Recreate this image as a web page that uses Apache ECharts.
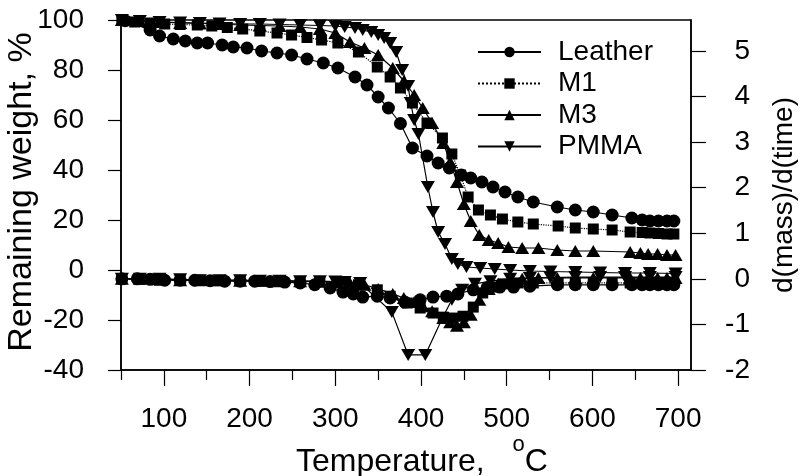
<!DOCTYPE html>
<html>
<head>
<meta charset="utf-8">
<script src="https://cdn.jsdelivr.net/npm/echarts@6/dist/echarts.min.js"></script>
<style>
  html, body { margin: 0; padding: 0; background: #fff; }
  #chart { width: 803px; height: 476px; }
</style>
</head>
<body>
<div id="chart"></div>
<script>
// tick values
const xMajorTicks = [100, 200, 300, 400, 500, 600, 700];
const xMinorTicks = [50, 150, 250, 350, 450, 550, 650];
const rightTicks = [-2, -1, 0, 1, 2, 3, 4, 5];

// Leather - remaining weight (TG)
const leatherTgT = [55, 84, 95, 111, 125, 139, 151, 168, 181, 197, 214, 232, 249, 267, 286, 303, 323, 337, 350, 362, 376, 390, 407, 420, 433, 447, 458, 471, 484, 498, 513, 531, 559, 580, 601, 623, 646, 658, 667, 677, 687, 695];
const leatherTg = [99.7, 96.0, 93.6, 92.4, 91.6, 90.8, 90.8, 90.0, 89.2, 88.8, 87.6, 86.8, 86.0, 84.4, 82.8, 80.8, 77.2, 74.0, 69.2, 64.8, 58.6, 48.8, 45.6, 42.8, 40.8, 38.0, 36.8, 35.2, 33.2, 31.2, 29.2, 27.2, 25.2, 24.0, 23.2, 22.0, 20.8, 20.0, 19.6, 19.6, 19.6, 19.6];
// Leather - d(mass)/d(time)
const leatherDtgT = [51, 69, 84, 101, 119, 136, 154, 171, 189, 206, 224, 241, 259, 276, 294, 309, 321, 332, 349, 364, 381, 399, 414, 430, 443, 461, 477, 492, 508, 527, 559, 580, 601, 623, 646, 658, 667, 677, 687, 695];
const leatherDtg = [0.0, 0.0, -0.01, -0.03, -0.03, -0.03, -0.04, -0.05, -0.05, -0.05, -0.06, -0.07, -0.09, -0.13, -0.20, -0.29, -0.33, -0.40, -0.38, -0.42, -0.51, -0.46, -0.40, -0.38, -0.33, -0.24, -0.20, -0.18, -0.18, -0.16, -0.13, -0.13, -0.13, -0.13, -0.13, -0.13, -0.13, -0.13, -0.13, -0.13];

// M1
const m1TgT = [51, 66, 84, 101, 119, 139, 156, 174, 192, 212, 232, 249, 267, 284, 303, 327, 349, 364, 376, 390, 407, 425, 436, 446, 455, 467, 481, 495, 513, 531, 560, 580, 601, 623, 644, 658, 667, 677, 687, 695];
const m1Tg = [100, 99.2, 98.8, 98.4, 98.2, 98.0, 97.6, 97.0, 96.4, 95.6, 94.8, 94.0, 93.0, 92.0, 90.8, 87.2, 81.2, 77.2, 72.8, 66.8, 58.8, 52.8, 46.4, 38.0, 29.2, 24.0, 22.0, 20.4, 19.2, 18.4, 17.6, 16.8, 16.4, 16.0, 15.2, 15.0, 14.8, 14.6, 14.4, 14.4];
const m1DtgT = [51, 72, 95, 119, 142, 165, 189, 212, 235, 259, 282, 303, 327, 349, 364, 384, 399, 414, 426, 437, 449, 461, 472, 484, 496, 513, 531, 560, 580, 601, 623, 644, 658, 667, 677, 687, 695];
const m1Dtg = [0.0, -0.01, -0.03, -0.03, -0.03, -0.04, -0.04, -0.05, -0.05, -0.06, -0.07, -0.09, -0.13, -0.24, -0.38, -0.53, -0.64, -0.75, -0.84, -0.86, -0.82, -0.62, -0.31, -0.18, -0.11, -0.09, -0.09, -0.09, -0.09, -0.09, -0.09, -0.09, -0.09, -0.09, -0.09, -0.09, -0.09];

// M3
const m3TgT = [51, 72, 95, 119, 142, 165, 189, 212, 235, 259, 282, 300, 317, 334, 350, 367, 380, 392, 402, 413, 426, 434, 442, 450, 458, 468, 479, 490, 502, 518, 537, 559, 580, 601, 644, 656, 665, 676, 687, 697];
const m3Tg = [100, 99.6, 99.2, 98.8, 98.6, 98.4, 98.0, 97.8, 97.6, 97.2, 96.4, 94.8, 91.2, 88.8, 86.0, 80.8, 75.6, 70.0, 64.8, 58.8, 50.8, 43.2, 35.2, 26.4, 19.6, 14.0, 12.0, 10.8, 9.2, 8.8, 8.8, 8.0, 7.6, 7.6, 7.2, 6.8, 6.4, 6.4, 6.0, 6.0];
const m3DtgT = [51, 72, 95, 119, 142, 165, 189, 212, 235, 259, 282, 300, 317, 334, 350, 367, 380, 392, 402, 413, 426, 434, 442, 450, 458, 468, 479, 490, 502, 518, 537, 559, 580, 601, 644, 656, 665, 676, 687, 697];
const m3Dtg = [0.0, 0.0, -0.01, -0.03, -0.03, -0.03, -0.04, -0.04, -0.05, -0.05, -0.06, -0.07, -0.09, -0.13, -0.22, -0.33, -0.42, -0.51, -0.60, -0.71, -0.86, -0.95, -1.03, -0.95, -0.79, -0.46, -0.22, -0.11, -0.05, 0.0, 0.02, 0.02, 0.02, 0.02, 0.02, 0.02, 0.02, 0.02, 0.02, 0.02];

// PMMA
const pmmaTgT = [51, 72, 95, 119, 142, 165, 189, 212, 235, 259, 282, 300, 311, 323, 332, 342, 350, 357, 364, 371, 378, 385, 388, 392, 397, 408, 414, 420, 428, 436, 443, 453, 469, 486, 504, 527, 551, 580, 609, 638, 667, 697];
const pmmaTg = [100, 99.6, 99.2, 99.0, 98.8, 98.6, 98.4, 98.4, 98.2, 98.0, 97.8, 97.6, 97.2, 96.8, 96.0, 95.2, 94.0, 92.8, 90.8, 87.2, 80.0, 73.6, 66.8, 60.0, 54.4, 33.2, 23.2, 15.2, 10.4, 4.4, 2.4, 1.2, 0.8, 0.4, 0.0, -0.4, -0.6, -0.8, -1.0, -1.2, -1.2, -1.4];
const pmmaDtgT = [51, 72, 95, 119, 142, 165, 189, 212, 235, 259, 282, 300, 311, 329, 366, 385, 405, 425, 436, 448, 463, 481, 504, 527, 551, 580, 609, 638, 667, 697];
const pmmaDtg = [0.0, 0.0, 0.0, -0.01, -0.03, -0.03, -0.03, -0.04, -0.04, -0.05, -0.05, -0.06, -0.07, -0.09, -0.73, -1.67, -1.67, -0.86, -0.46, -0.24, -0.11, -0.05, 0.0, 0.02, 0.03, 0.04, 0.04, 0.04, 0.04, 0.04];

const font = '"Liberation Sans", Arial, Helvetica, sans-serif';
const black = '#000';

function pairs(xs, ys) {
  return xs.map((x, i) => [x, ys[i]]);
}

const downTri = 'path://M0,0L10,0L5,9Z';
const styles = {
  Leather: { symbol: 'circle', symbolSize: 13, type: 'solid' },
  M1: { symbol: 'rect', symbolSize: 11, type: 'dotted' },
  M3: { symbol: 'triangle', symbolSize: [14, 12], type: 'solid' },
  PMMA: { symbol: downTri, symbolSize: [14, 12], type: 'solid' },
};

function makeSeries(name, xs, ys, axis) {
  const s = styles[name];
  return {
    name: name,
    type: 'line',
    yAxisIndex: axis,
    data: pairs(xs, ys),
    symbol: s.symbol,
    symbolSize: s.symbolSize,
    showAllSymbol: true,
    itemStyle: { color: black },
    lineStyle: { color: black, width: 1.2, type: s.type },
    emphasis: { disabled: true },
  };
}

const chart = echarts.init(document.getElementById('chart'));
chart.setOption({
  animation: false,
  backgroundColor: '#fff',
  textStyle: { fontFamily: font, color: black },
  grid: {
    left: 121, right: 112, top: 20, bottom: 106,
    outerBoundsMode: 'none',
    show: true, borderColor: black, borderWidth: 1.5,
  },
  legend: {
    orient: 'vertical',
    left: 477,
    top: 38,
    padding: 0,
    itemWidth: 63,
    itemHeight: 13,
    itemGap: 3.5,
    data: ['Leather', 'M1', 'M3', 'PMMA'],
    textStyle: { fontSize: 28, color: black, fontFamily: font, padding: [0, 0, 0, 12] },
  },
  xAxis: [
    {
      type: 'value',
      min: 50,
      max: 715,
      position: 'bottom',
      axisLine: { onZero: false, lineStyle: { color: black, width: 1.5 } },
      axisTick: { customValues: xMajorTicks, length: 16, lineStyle: { color: black, width: 1.2 } },
      axisLabel: { customValues: xMajorTicks, color: black, fontSize: 28, fontFamily: font, margin: 35 },
      splitLine: { show: false },
      name: '{t|Temperature,}{s|o}{t|C}',
      nameLocation: 'middle',
      nameGap: 64,
      nameMoveOverlap: false,
      nameTextStyle: {
        padding: [0, 0, 0, 32],
        rich: {
          t: { fontSize: 32, lineHeight: 44, verticalAlign: 'bottom', color: black, fontFamily: font },
          s: { fontSize: 22, lineHeight: 22, verticalAlign: 'top', color: black, fontFamily: font, padding: [0, 0, 0, 28] },
        },
      },
    },
    {
      type: 'value',
      min: 50,
      max: 715,
      position: 'bottom',
      axisLine: { show: false, onZero: false },
      axisTick: { customValues: xMinorTicks, length: 10, lineStyle: { color: black, width: 1.2 } },
      axisLabel: { show: false },
      splitLine: { show: false },
    },
  ],
  yAxis: [
    {
      type: 'value',
      min: -40,
      max: 100,
      interval: 20,
      position: 'left',
      axisLine: { show: true, onZero: false, lineStyle: { color: black, width: 1.5 } },
      axisTick: { show: true, length: 13, lineStyle: { color: black, width: 1.2 } },
      axisLabel: { color: black, fontSize: 28, fontFamily: font, margin: 37 },
      splitLine: { show: false },
      name: 'Remaining weight, %',
      nameLocation: 'middle',
      nameRotate: 90,
      nameGap: 82,
      nameMoveOverlap: false,
      nameTextStyle: { fontSize: 34, color: black, fontFamily: font, padding: [0, 0, 0, 6] },
    },
    {
      type: 'value',
      min: -2,
      max: 5.68,
      position: 'right',
      axisLine: { show: true, onZero: false, lineStyle: { color: black, width: 1.5 } },
      axisTick: { show: true, customValues: rightTicks, length: 15, lineStyle: { color: black, width: 1.2 } },
      axisLabel: { customValues: rightTicks, align: 'right', color: black, fontSize: 28, fontFamily: font, margin: 59 },
      splitLine: { show: false },
      name: 'd(mass)/d(time)',
      nameLocation: 'middle',
      nameRotate: 90,
      nameGap: 79,
      nameMoveOverlap: false,
      nameTextStyle: { fontSize: 28, color: black, fontFamily: font },
    },
  ],
  series: [
    makeSeries('Leather', leatherTgT, leatherTg, 0),
    makeSeries('M1', m1TgT, m1Tg, 0),
    makeSeries('M3', m3TgT, m3Tg, 0),
    makeSeries('PMMA', pmmaTgT, pmmaTg, 0),
    makeSeries('Leather', leatherDtgT, leatherDtg, 1),
    makeSeries('M1', m1DtgT, m1Dtg, 1),
    makeSeries('M3', m3DtgT, m3Dtg, 1),
    makeSeries('PMMA', pmmaDtgT, pmmaDtg, 1),
  ],
});
</script>
</body>
</html>
